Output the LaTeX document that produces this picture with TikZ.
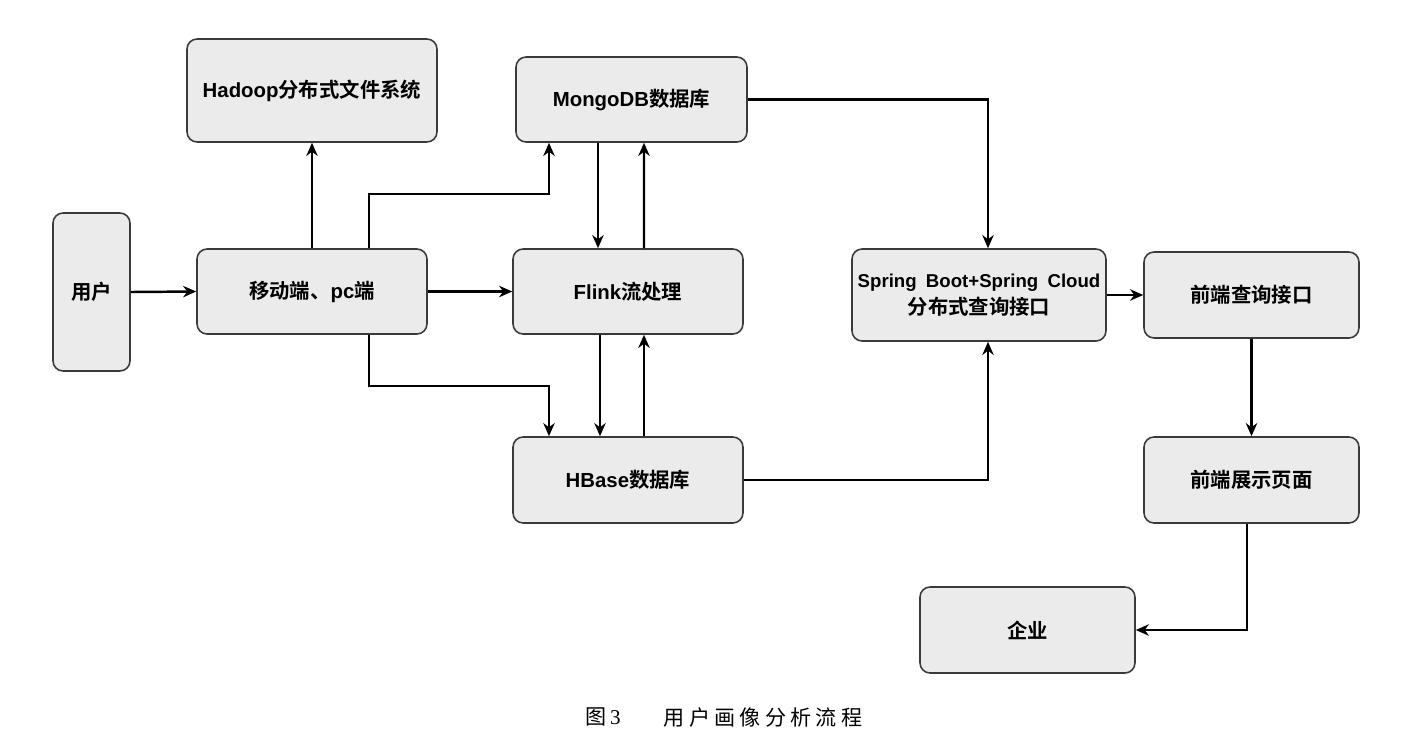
\documentclass[tikz,border=0pt]{standalone}
\usepackage{fontspec}
\setmainfont{Liberation Sans}
\newfontfamily\lat{Liberation Sans}
\newfontfamily\cjk{Noto Sans CJK SC}[BoldFont={Noto Sans CJK SC Bold}]
\newfontfamily\capcjk{Noto Sans CJK SC}[LetterSpace=20]
\newfontfamily\capser{Liberation Serif}
\usetikzlibrary{arrows.meta,calc}
\definecolor{boxfill}{HTML}{EBEBEB}
\definecolor{boxline}{HTML}{3A3A3A}
\begin{document}
\begin{tikzpicture}[x=0.02cm,y=-0.02cm,
  box/.style={draw=boxline,line width=0.9pt,fill=boxfill,rounded corners=0.2cm,
    inner sep=0pt,align=center,font=\bfseries\fontsize{11.6}{15.3}\selectfont},
  arr/.style={draw=black,line width=1.4pt,-{Stealth[length=7.5pt,width=6.5pt]}}]
\useasboundingbox (0,0) rectangle (1418,738);
\fill[white] (0,0) rectangle (1418,738);
\node[box,minimum width=1.54cm,minimum height=3.16cm] (user) at (91.5,292) {\cjk 用户};
\node[box,minimum width=5.0cm,minimum height=2.06cm] (hadoop) at (312,90.5) {\lat Hadoop\cjk 分布式文件系统};
\node[box,minimum width=4.6cm,minimum height=1.7cm] (mobile) at (312,291.5) {\cjk 移动端、\lat pc\cjk 端};
\node[box,minimum width=4.62cm,minimum height=1.7cm] (mongo) at (631.5,99.5) {\lat MongoDB\cjk 数据库};
\node[box,minimum width=4.6cm,minimum height=1.7cm] (flink) at (628,291.5) {\lat Flink\cjk 流处理};
\node[box,minimum width=4.6cm,minimum height=1.72cm] (hbase) at (628,480) {\lat HBase\cjk 数据库};
\node[box,minimum width=5.08cm,minimum height=1.84cm] (spring) at (979,295) {{\lat\fontsize{10.6}{15.3}\selectfont Spring\hspace{0.5em}Boot+Spring\hspace{0.5em}Cloud}\\\cjk 分布式查询接口};
\node[box,minimum width=4.3cm,minimum height=1.72cm] (query) at (1251.5,295) {\cjk 前端查询接口};
\node[box,minimum width=4.3cm,minimum height=1.72cm] (show) at (1251.5,480) {\cjk 前端展示页面};
\node[box,minimum width=4.3cm,minimum height=1.72cm] (ent) at (1027.5,630) {\cjk 企业};
\draw[arr] (user.east) -- (mobile.west);
\draw[arr] (mobile.north) -- (hadoop.south);
\draw[arr] ($(mobile.north)+(57,0)$) -- ++(0,-54) -| ($(mongo.south)+(-82.5,0)$);
\draw[arr] (mobile.east) -- (flink.west);
\draw[arr] ($(mobile.south)+(57,0)$) -- ++(0,51) -| ($(hbase.north)+(-79,0)$);
\draw[arr] ($(mongo.south)+(-33.5,0)$) -- ($(flink.north)+(-30,0)$);
\draw[arr] ($(flink.north)+(16,0)$) -- ($(mongo.south)+(12.5,0)$);
\draw[arr] ($(flink.south)+(-28,0)$) -- ($(hbase.north)+(-28,0)$);
\draw[arr] ($(hbase.north)+(16,0)$) -- ($(flink.south)+(16,0)$);
\draw[arr] (mongo.east) -| ($(spring.north)+(9,0)$);
\draw[arr] (hbase.east) -| ($(spring.south)+(9,0)$);
\draw[arr] (spring.east) -- (query.west);
\draw[arr] (query.south) -- (show.north);
\draw[arr] ($(show.south)+(-4.5,0)$) |- (ent.east);
\node[inner sep=0pt,font=\fontsize{12}{14}\selectfont] (fig) at (603,717) {\capcjk 图\capser\,3};
\node[inner sep=0pt,font=\fontsize{12}{14}\selectfont] (title) at (763,717) {\capcjk 用户画像分析流程};
\end{tikzpicture}
\end{document}
